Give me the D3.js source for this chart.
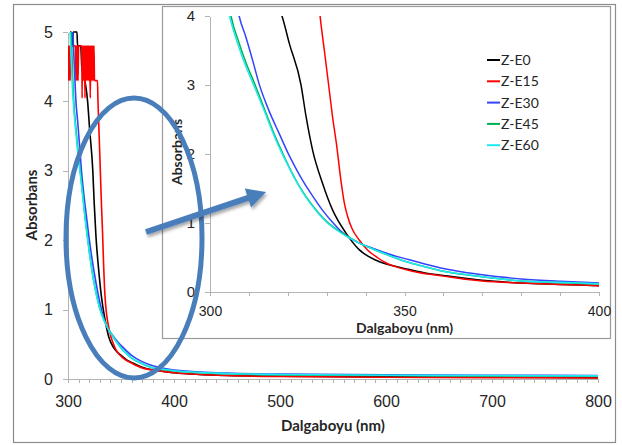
<!DOCTYPE html>
<html>
<head>
<meta charset="utf-8">
<title>Absorbans</title>
<script src="https://d3js.org/d3.v7.min.js"></script>
<style>
    body { margin: 0; background: #fff; }
    svg { display: block; font-family: Lato, "Open Sans", sans-serif; }
    .axis path, .axis line { stroke: #b3b3b3; shape-rendering: crispEdges; }
    .axis text { fill: #262626; }
</style>
</head>
<body>
<svg id="chart" width="622" height="445"></svg>
<script>
    // Series (wavelength nm, absorbance)
    const seriesNames = ["Z-E0", "Z-E15", "Z-E30", "Z-E45", "Z-E60"];
    const seriesColors = ["#000000", "#ff0000", "#3344ff", "#00b050", "#1ee8f0"];

    const zE0 = [[302,5],[303,5],[304,4.8],[305,5],[308.5,5],[309,4.8],[312,4.8],[313,4.5],[315,4.35],[317,4.2],
        [318.5,4.0],[320.4,3.6],[323.4,3.0],[324.7,2.54],[326.4,2.05],[328.9,1.58],[331.5,1.19],[335,0.85],
        [338.4,0.61],[342.7,0.46],[347,0.38],[351,0.33],[355,0.28],[360,0.24],[370,0.17],[380,0.13],
        [390,0.11],[400,0.09],[450,0.05],[500,0.04],[600,0.03],[700,0.025],[800,0.02]];

    const zE15 = [[300,4.3],[300.5,4.8],[301,4.3],[301.5,4.8],[302,4.3],[302.5,4.8],
        [307,4.8],[307.5,4.3],[308,4.8],[308.5,4.3],[309,4.8],[309.5,4.3],[310,4.8],
        [313,4.8],[313.3,4.05],[313.6,4.8],[314,4.3],[314.5,4.8],[315,4.3],[315.5,4.8],[316,4.05],[316.5,4.8],
        [317,4.3],[317.5,4.8],[318,4.3],[318.5,4.8],[319,4.3],[319.5,4.8],[320,4.3],[320.5,4.8],[321,4.05],
        [321.5,4.8],[322,4.3],[322.5,4.8],[323,4.3],[323.5,4.8],[324,4.3],[324.5,4.8],[325,4.3],
        [327.8,4.3],[328.3,4.0],[329.4,3.5],[330.5,3.0],[331.5,2.54],[332.5,2.15],[333.7,1.6],[334.5,1.3],
        [335.4,1.09],[336.5,0.92],[338.4,0.75],[340.5,0.61],[343,0.5],[345.3,0.42],[348.7,0.35],[352,0.3],
        [356,0.26],[360,0.23],[365,0.19],[370,0.16],[380,0.13],[390,0.11],[400,0.09],[450,0.05],
        [500,0.035],[600,0.025],[700,0.02],[800,0.015]];

    const zE30 = [[304.5,5],[306,4.5],[307.5,4.0],[309.2,3.7],[311,3.35],[312.6,3.02],[315,2.65],[318,2.27],
        [320,2.02],[322,1.8],[324,1.6],[326.4,1.39],[329,1.18],[331.5,1.01],[333.5,0.89],[335.4,0.8],
        [338,0.72],[342,0.63],[346,0.55],[351,0.47],[355,0.41],[360,0.34],[365,0.29],[370,0.25],[380,0.19],
        [390,0.155],[400,0.13],[450,0.085],[500,0.07],[600,0.06],[700,0.055],[800,0.05]];

    const zE45 = [[303,5],[304,4.5],[305.4,4.0],[307.4,3.62],[309.4,3.3],[311.4,3.03],[314.2,2.62],[316.2,2.33],
        [318.2,2.07],[320,1.85],[322,1.63],[324,1.44],[326,1.28],[328,1.14],[330,1.02],[332,0.93],[335,0.82],
        [338,0.72],[342,0.62],[346,0.53],[351,0.43],[355,0.37],[360,0.3],[370,0.22],[380,0.16],
        [390,0.135],[400,0.115],[450,0.075],[500,0.06],[600,0.05],[700,0.045],[800,0.04]];

    const zE60 = [[302,5],[303,4.6],[304,4.25],[305,4.0],[307,3.62],[309,3.3],[311,3.03],[314,2.62],[316,2.33],
        [318,2.07],[320,1.84],[322,1.62],[324,1.43],[326,1.27],[328,1.13],[330,1.01],[332,0.92],[335,0.81],
        [338,0.72],[342,0.62],[346,0.53],[351,0.43],[355,0.37],[360,0.3],[365,0.26],[370,0.22],[380,0.16],
        [390,0.14],[400,0.12],[450,0.08],[500,0.065],[600,0.055],[700,0.05],[800,0.045]];

    const seriesData = [zE0, zE15, zE30, zE45, zE60];

    const mainXTicks = d3.range(300, 801, 10);
    const mainXLabels = [300, 400, 500, 600, 700, 800];
    const mainYTicks = [0, 1, 2, 3, 4, 5];
    const insetXTicks = d3.range(300, 401, 10);
    const insetXLabels = [300, 350, 400];
    const insetYTicks = [0, 1, 2, 3, 4];

    const svg = d3.select("#chart");

    // outer frame
    svg.append("rect").attr("x", 13.5).attr("y", 4.5).attr("width", 602).attr("height", 438)
        .attr("fill", "#fff").attr("stroke", "#8c8c8c").attr("stroke-width", 1.2);

    // ---------- main chart ----------
    const x = d3.scaleLinear().domain([300, 800]).range([68, 598]);
    const y = d3.scaleLinear().domain([0, 5]).range([379, 32]);

    svg.append("g").attr("class", "axis").attr("transform", "translate(0,379)")
        .call(d3.axisBottom(x).tickValues(mainXTicks).tickSize(4).tickSizeOuter(0).tickPadding(13)
            .tickFormat(d => mainXLabels.includes(d) ? d : ""))
        .call(g => g.selectAll("text").attr("font-size", 16));

    svg.append("g").attr("class", "axis").attr("transform", "translate(68,0)")
        .call(d3.axisLeft(y).tickValues(mainYTicks).tickSize(5).tickSizeOuter(0).tickPadding(10)
            .tickFormat(d3.format("d")))
        .call(g => g.selectAll("text").attr("font-size", 16));

    svg.append("text").attr("x", 333).attr("y", 431).attr("text-anchor", "middle")
        .attr("font-size", 15).attr("font-weight", "bold").attr("fill", "#262626").text("Dalgaboyu (nm)");
    svg.append("text").attr("transform", "translate(37,205) rotate(-90)").attr("text-anchor", "middle")
        .attr("font-size", 15).attr("font-weight", "bold").attr("fill", "#262626").text("Absorbans");

    svg.append("clipPath").attr("id", "clip-main").append("rect")
        .attr("x", 68).attr("y", 31).attr("width", 531).attr("height", 349);

    const mainLine = d3.line().x(d => x(d[0])).y(d => y(d[1])).curve(d3.curveMonotoneX);
    svg.append("g").attr("clip-path", "url(#clip-main)")
        .selectAll("path").data(seriesData).enter().append("path")
        .attr("d", mainLine).attr("fill", "none")
        .attr("stroke", (d, i) => seriesColors[i]).attr("stroke-width", 1.6);

    // ---------- inset ----------
    svg.append("rect").attr("x", 162.5).attr("y", 6.5).attr("width", 448).attr("height", 332)
        .attr("fill", "#fff").attr("stroke", "#9a9a9a").attr("stroke-width", 1.2);

    const xi = d3.scaleLinear().domain([300, 400]).range([210, 599]);
    const yi = d3.scaleLinear().domain([0, 4]).range([292, 16]);

    svg.append("g").attr("class", "axis").attr("transform", "translate(0,292)")
        .call(d3.axisBottom(xi).tickValues(insetXTicks).tickSize(4).tickSizeOuter(0).tickPadding(10)
            .tickFormat(d => insetXLabels.includes(d) ? d : ""))
        .call(g => g.selectAll("text").attr("font-size", 14));

    svg.append("g").attr("class", "axis").attr("transform", "translate(210,0)")
        .call(d3.axisLeft(yi).tickValues(insetYTicks).tickSize(5).tickSizeOuter(0).tickPadding(10)
            .tickFormat(d3.format("d")))
        .call(g => g.selectAll("text").attr("font-size", 15));

    svg.append("text").attr("x", 404.5).attr("y", 333).attr("text-anchor", "middle")
        .attr("font-size", 14).attr("font-weight", "bold").attr("fill", "#262626").text("Dalgaboyu (nm)");
    svg.append("text").attr("transform", "translate(182,152) rotate(-90)").attr("text-anchor", "middle")
        .attr("font-size", 14).attr("font-weight", "bold").attr("fill", "#262626").text("Absorbans");

    svg.append("clipPath").attr("id", "clip-inset").append("rect")
        .attr("x", 210).attr("y", 16).attr("width", 389).attr("height", 276);

    const insetLine = d3.line().x(d => xi(d[0])).y(d => yi(d[1])).curve(d3.curveMonotoneX);
    svg.append("g").attr("clip-path", "url(#clip-inset)")
        .selectAll("path").data(seriesData).enter().append("path")
        .attr("d", d => insetLine(d.filter(p => p[0] <= 410)))
        .attr("fill", "none")
        .attr("stroke", (d, i) => seriesColors[i]).attr("stroke-width", 1.5);

    // legend
    const legend = svg.append("g").selectAll("g").data(seriesNames).enter().append("g")
        .attr("transform", (d, i) => `translate(487,${60 + i * 21.3})`);
    legend.append("line").attr("x1", 0).attr("x2", 13).attr("stroke", (d, i) => seriesColors[i]).attr("stroke-width", 2);
    legend.append("text").attr("x", 14).attr("dy", "0.35em").attr("font-size", 14).attr("fill", "#262626").text(d => d);

    // ---------- annotations ----------
    const defs = svg.append("defs");
    defs.append("filter").attr("id", "shadow").attr("x", "-20%").attr("y", "-50%").attr("width", "140%").attr("height", "200%")
        .append("feDropShadow").attr("dx", 1.5).attr("dy", 2.5).attr("stdDeviation", 1.5)
        .attr("flood-color", "#000").attr("flood-opacity", 0.35);

    svg.append("ellipse").attr("cx", 134).attr("cy", 238).attr("rx", 68).attr("ry", 140)
        .attr("fill", "none").attr("stroke", "#4a7ebb").attr("stroke-width", 5);

    const tail = [146, 232], tip = [266, 192];
    const len = Math.hypot(tip[0] - tail[0], tip[1] - tail[1]);
    const ux = (tip[0] - tail[0]) / len, uy = (tip[1] - tail[1]) / len;
    const headLen = 19, headHalf = 10;
    const base = [tip[0] - ux * headLen, tip[1] - uy * headLen];
    const arrow = svg.append("g").attr("filter", "url(#shadow)");
    arrow.append("line").attr("x1", tail[0]).attr("y1", tail[1]).attr("x2", base[0] + ux).attr("y2", base[1] + uy)
        .attr("stroke", "#4a7ebb").attr("stroke-width", 6);
    arrow.append("path")
        .attr("d", `M${tip[0]},${tip[1]} L${base[0] - uy * headHalf},${base[1] + ux * headHalf} L${base[0] + uy * headHalf},${base[1] - ux * headHalf} Z`)
        .attr("fill", "#4a7ebb");
</script>
</body>
</html>
